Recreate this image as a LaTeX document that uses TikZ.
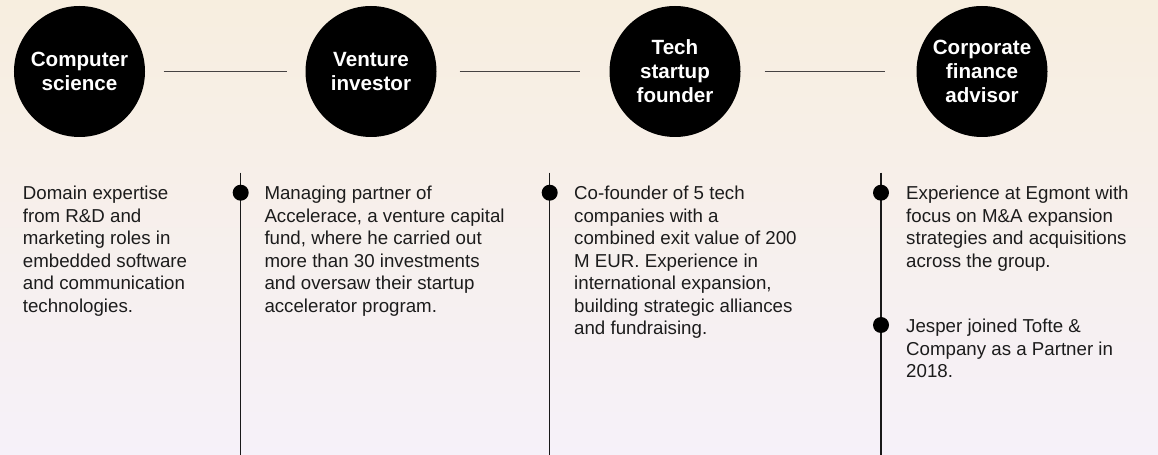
\documentclass[tikz,border=0pt]{standalone}
\usepackage{fontspec}
\setmainfont{Liberation Sans}
\usepackage{xcolor}
\usetikzlibrary{positioning}
\definecolor{bgtop}{RGB}{247,238,223}
\definecolor{bgmid}{RGB}{239,231,229}
\definecolor{bgbot}{RGB}{246,241,249}
\definecolor{linegray}{RGB}{70,66,66}
\definecolor{txtgray}{RGB}{28,28,28}
\newcommand\infofont[0]{\fontsize{18.7bp}{22.5bp}\selectfont}
\newcommand\rolefont[0]{\fontsize{20.6bp}{24bp}\selectfont\bfseries}

\begin{document}
\begin{tikzpicture}[x=1bp,y=-1bp,
        role/.style={circle,fill=black,minimum size=131bp,inner sep=0pt,
            text=white,align=center,font=\rolefont},
        info/.style={anchor=north west,inner sep=0pt,align=left,
            text=txtgray,font=\infofont},
        link/.style={draw=linegray,line width=1bp},
        stem/.style={draw=black!90,line width=1.4bp},
        dot/.style={circle,fill=black,minimum size=16bp,inner sep=0pt}]
    % background
    \shade[top color=bgtop,middle color=bgmid,bottom color=bgbot]
        (0,0) rectangle (1158,455);
    \useasboundingbox (0,0) rectangle (1158,455);

    % roles
    \node[role] (cs) at (79.5,71.5) {Computer\\science};
    \node[role] (vi) at (371,71.5) {Venture\\investor};
    \node[role] (tf) at (675,71.5) {Tech\\startup\\founder};
    \node[role] (cf) at (982,71.5) {Corporate\\finance\\advisor};

    \draw[link, shorten <=18.5bp, shorten >=18.5bp] (cs) -- (vi);
    \draw[link, shorten <=23bp, shorten >=29bp] (vi) -- (tf);
    \draw[link, shorten <=24bp, shorten >=31bp] (tf) -- (cf);

    % stems
    \coordinate (s1top) at (240.7,172.7);
    \coordinate (s1bot) at (240.7,455);
    \coordinate (s2top) at (549.7,172.7);
    \coordinate (s2bot) at (549.7,455);
    \coordinate (s3top) at (881,172.7);
    \coordinate (s3bot) at (881,455);
    \draw[stem] (s1top) -- (s1bot);
    \draw[stem] (s2top) -- (s2bot);
    \draw[stem] (s3top) -- (s3bot);

    \node[dot] (d1) at (240.7,192.7) {};
    \node[dot] (d2) at (549.7,192.7) {};
    \node[dot] (d3) at (881,192.7) {};
    \node[dot] (d4) at (881,325) {};

    % texts
    \node[info] (t1) at (22.7,186) {Domain expertise\\from R\&D and\\marketing roles in\\embedded software\\and communication\\technologies.};
    \node[info] (t2) at (264.3,186) {Managing partner of\\Accelerace, a venture capital\\fund, where he carried out\\more than 30 investments\\and oversaw their startup\\accelerator program.};
    \node[info] (t3) at (574,186) {Co-founder of 5 tech\\companies with a\\combined exit value of 200\\M EUR. Experience in\\international expansion,\\building strategic alliances\\and fundraising.};
    \node[info] (t4) at (906,186) {Experience at Egmont with\\focus on M\&A expansion\\strategies and acquisitions\\across the group.};
    \node[info] (t5) at (906,319) {Jesper joined Tofte \&\\Company as a Partner in\\2018.};
\end{tikzpicture}
\end{document}
